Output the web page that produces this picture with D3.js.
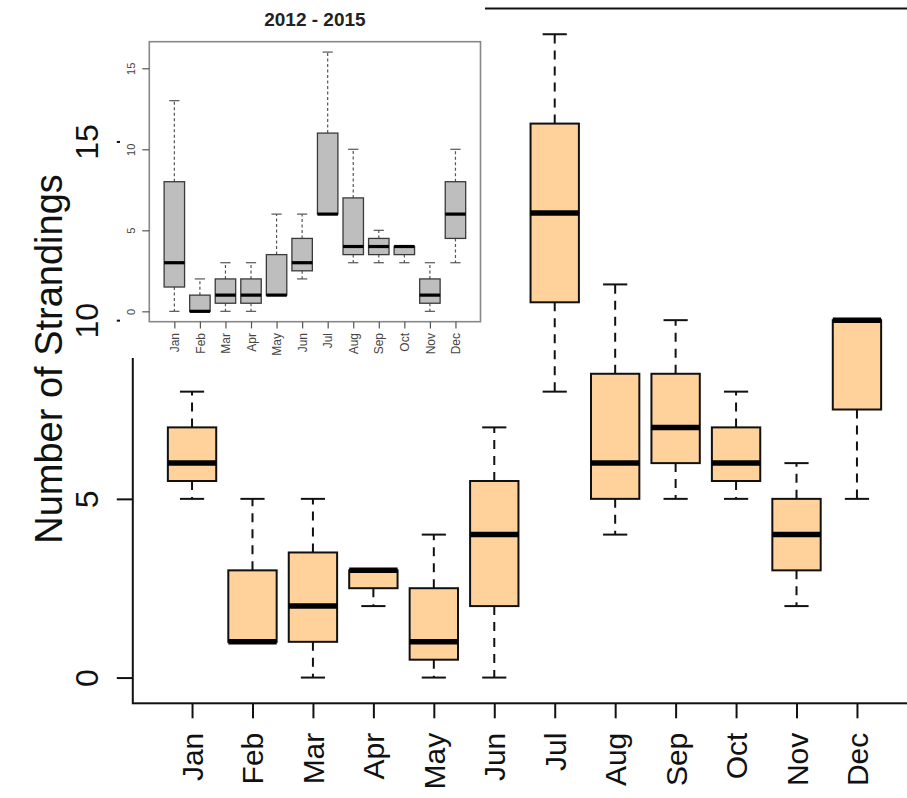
<!DOCTYPE html>
<html>
<head>
<meta charset="utf-8">
<script src="https://cdn.jsdelivr.net/npm/d3@7"></script>
<style>
html,body{margin:0;padding:0;background:#fff;}
svg{display:block;font-family:"Liberation Sans",Arial,Helvetica,sans-serif;}
</style>
</head>
<body>
<svg id="chart" width="907" height="798"></svg>
<script>
// ---- data ----
const months = ["Jan","Feb","Mar","Apr","May","Jun","Jul","Aug","Sep","Oct","Nov","Dec"];
// main chart (all years)
const mainMin    = [5, 1, 0, 2,   0,   0,    8,   4, 5, 5,   2, 5];
const mainQ1     = [5.5, 1, 1, 2.5, 0.5, 2,  10.5, 5, 6, 5.5, 3, 7.5];
const mainMedian = [6, 1, 2, 3,   1,   4,   13,   6, 7, 6,   4, 10];
const mainQ3     = [7, 3, 3.5, 3, 2.5, 5.5, 15.5, 8.5, 8.5, 7, 5, 10];
const mainMax    = [8, 5, 5, 3,   4,   7,   18,  11, 10, 8,   6, 10];
const mainYTicks = [0, 5, 10, 15];
// inset chart (2012 - 2015)
const insetMin    = [0, 0, 0,   0,   1, 2,   6, 3,   3,   3,   0,   3];
const insetQ1     = [1.5, 0, 0.5, 0.5, 1, 2.5, 6, 3.5, 3.5, 3.5, 0.5, 4.5];
const insetMedian = [3, 0, 1,   1,   1, 3,   6, 4,   4,   4,   1,   6];
const insetQ3     = [8, 1, 2,   2, 3.5, 4.5, 11, 7,   4.5, 4,   2,   8];
const insetMax    = [13, 2, 3,  3,   6, 6,  16, 10,  5,   4,   3,  10];
const insetYTicks = [0, 5, 10, 15];
const insetTitle = "2012 - 2015";
const yLabel = "Number of Strandings";

const svg = d3.select("#chart");
svg.append("rect").attr("width",907).attr("height",798).attr("fill","#fff");

function stats(mn,q1,md,q3,mx){
  return months.map((m,i)=>({m, i:i+1, min:mn[i], q1:q1[i], med:md[i], q3:q3[i], max:mx[i]}));
}

function drawBoxes(g, data, x, y, st){
  const grp = g.selectAll("g.bx").data(data).join("g").attr("class","bx");
  // whiskers
  grp.append("line").attr("x1",d=>x(d.i)).attr("x2",d=>x(d.i))
    .attr("y1",d=>y(d.q3)).attr("y2",d=>y(d.max))
    .attr("stroke",st.wcol).attr("stroke-width",st.ww).attr("stroke-dasharray",st.dash);
  grp.append("line").attr("x1",d=>x(d.i)).attr("x2",d=>x(d.i))
    .attr("y1",d=>y(d.q1)).attr("y2",d=>y(d.min))
    .attr("stroke",st.wcol).attr("stroke-width",st.ww).attr("stroke-dasharray",st.dash);
  // caps
  grp.append("line").attr("x1",d=>x(d.i-0.2)).attr("x2",d=>x(d.i+0.2))
    .attr("y1",d=>y(d.max)).attr("y2",d=>y(d.max))
    .attr("stroke",st.wcol).attr("stroke-width",st.ww);
  grp.append("line").attr("x1",d=>x(d.i-0.2)).attr("x2",d=>x(d.i+0.2))
    .attr("y1",d=>y(d.min)).attr("y2",d=>y(d.min))
    .attr("stroke",st.wcol).attr("stroke-width",st.ww);
  // box
  grp.append("rect").attr("x",d=>x(d.i-0.4)).attr("width",d=>x(d.i+0.4)-x(d.i-0.4))
    .attr("y",d=>y(d.q3)).attr("height",d=>Math.max(0,y(d.q1)-y(d.q3)))
    .attr("fill",st.fill).attr("stroke",st.bcol).attr("stroke-width",st.bw);
  // median
  grp.append("line").attr("x1",d=>x(d.i-0.4)).attr("x2",d=>x(d.i+0.4))
    .attr("y1",d=>y(d.med)).attr("y2",d=>y(d.med))
    .attr("stroke","#000").attr("stroke-width",st.mw);
}

// ---- main chart ----
const x = d3.scaleLinear().domain([0.02,12.98]).range([132.8,916.2]);
const y = d3.scaleLinear().domain([-0.72,18.72]).range([703.3,8.5]);
const main = svg.append("g");
drawBoxes(main, stats(mainMin,mainQ1,mainMedian,mainQ3,mainMax), x, y,
  {fill:"#FFD29C", bcol:"#111", bw:2, wcol:"#111", ww:2, dash:"9,7", mw:5.5});

main.append("rect").attr("x",x(0.02)).attr("y",y(18.72))
  .attr("width",x(12.98)-x(0.02)).attr("height",y(-0.72)-y(18.72))
  .attr("fill","none").attr("stroke","#111").attr("stroke-width",2);

const ya = main.append("g").attr("transform",`translate(${x(0.02)},0)`)
  .call(d3.axisLeft(y).tickValues(mainYTicks).tickSize(16).tickSizeOuter(0).tickFormat(d3.format("d")));
ya.select(".domain").remove();
ya.selectAll("line").attr("stroke","#111").attr("stroke-width",2);
ya.selectAll("text").attr("x",0).attr("dy",0).attr("text-anchor","middle")
  .attr("transform","translate(-35,0) rotate(-90)")
  .attr("font-size",32).attr("font-family","Liberation Sans, Arial, sans-serif").attr("fill","#111");

const xa = main.append("g").attr("transform",`translate(0,${y(-0.72)})`)
  .call(d3.axisBottom(x).tickValues(d3.range(1,13)).tickSize(15).tickSizeOuter(0).tickFormat(d=>months[d-1]));
xa.select(".domain").remove();
xa.selectAll("line").attr("stroke","#111").attr("stroke-width",2);
xa.selectAll("text").attr("y",0).attr("dy","0.35em").attr("text-anchor","end")
  .attr("transform","translate(0,29.4) rotate(-90)")
  .attr("font-size",30).attr("font-family","Liberation Sans, Arial, sans-serif").attr("fill","#111");

main.append("text").attr("transform",`translate(62,359) rotate(-90)`)
  .attr("text-anchor","middle").attr("font-size",38).attr("fill","#111").text(yLabel);

// ---- inset ----
const inset = svg.append("g");
inset.append("rect").attr("x",120).attr("y",0).attr("width",365).attr("height",358).attr("fill","#fff");
const xi = d3.scaleLinear().domain([0.02,12.98]).range([149.3,480.5]);
const yi = d3.scaleLinear().domain([-0.64,16.64]).range([321.7,41.7]);
drawBoxes(inset, stats(insetMin,insetQ1,insetMedian,insetQ3,insetMax), xi, yi,
  {fill:"#BEBEBE", bcol:"#3a3a3a", bw:1.3, wcol:"#555", ww:1.2, dash:"3,2.5", mw:3.2});
inset.append("rect").attr("x",xi(0.02)).attr("y",yi(16.64))
  .attr("width",xi(12.98)-xi(0.02)).attr("height",yi(-0.64)-yi(16.64))
  .attr("fill","none").attr("stroke","#888").attr("stroke-width",1.6);
const yia = inset.append("g").attr("transform",`translate(${xi(0.02)},0)`)
  .call(d3.axisLeft(yi).tickValues(insetYTicks).tickSize(7).tickSizeOuter(0).tickFormat(d3.format("d")));
yia.select(".domain").remove();
yia.selectAll("line").attr("stroke","#555").attr("stroke-width",1.2);
yia.selectAll("text").attr("x",0).attr("dy",0).attr("text-anchor","middle")
  .attr("transform","translate(-14.3,0) rotate(-90)")
  .attr("font-size",11).attr("font-family","Liberation Sans, Arial, sans-serif").attr("fill","#444");
const xia = inset.append("g").attr("transform",`translate(0,${yi(-0.64)})`)
  .call(d3.axisBottom(xi).tickValues(d3.range(1,13)).tickSize(6.7).tickSizeOuter(0).tickFormat(d=>months[d-1]));
xia.select(".domain").remove();
xia.selectAll("line").attr("stroke","#555").attr("stroke-width",1.2);
xia.selectAll("text").attr("y",0).attr("dy","0.35em").attr("text-anchor","end")
  .attr("transform","translate(0,11.3) rotate(-90)")
  .attr("font-size",12).attr("font-family","Liberation Sans, Arial, sans-serif").attr("fill","#444");
inset.append("text").attr("x",(xi(0.02)+xi(12.98))/2).attr("y",25.7)
  .attr("text-anchor","middle").attr("font-size",19).attr("font-weight","bold").attr("fill","#222")
  .text(insetTitle);
</script>
</body>
</html>
